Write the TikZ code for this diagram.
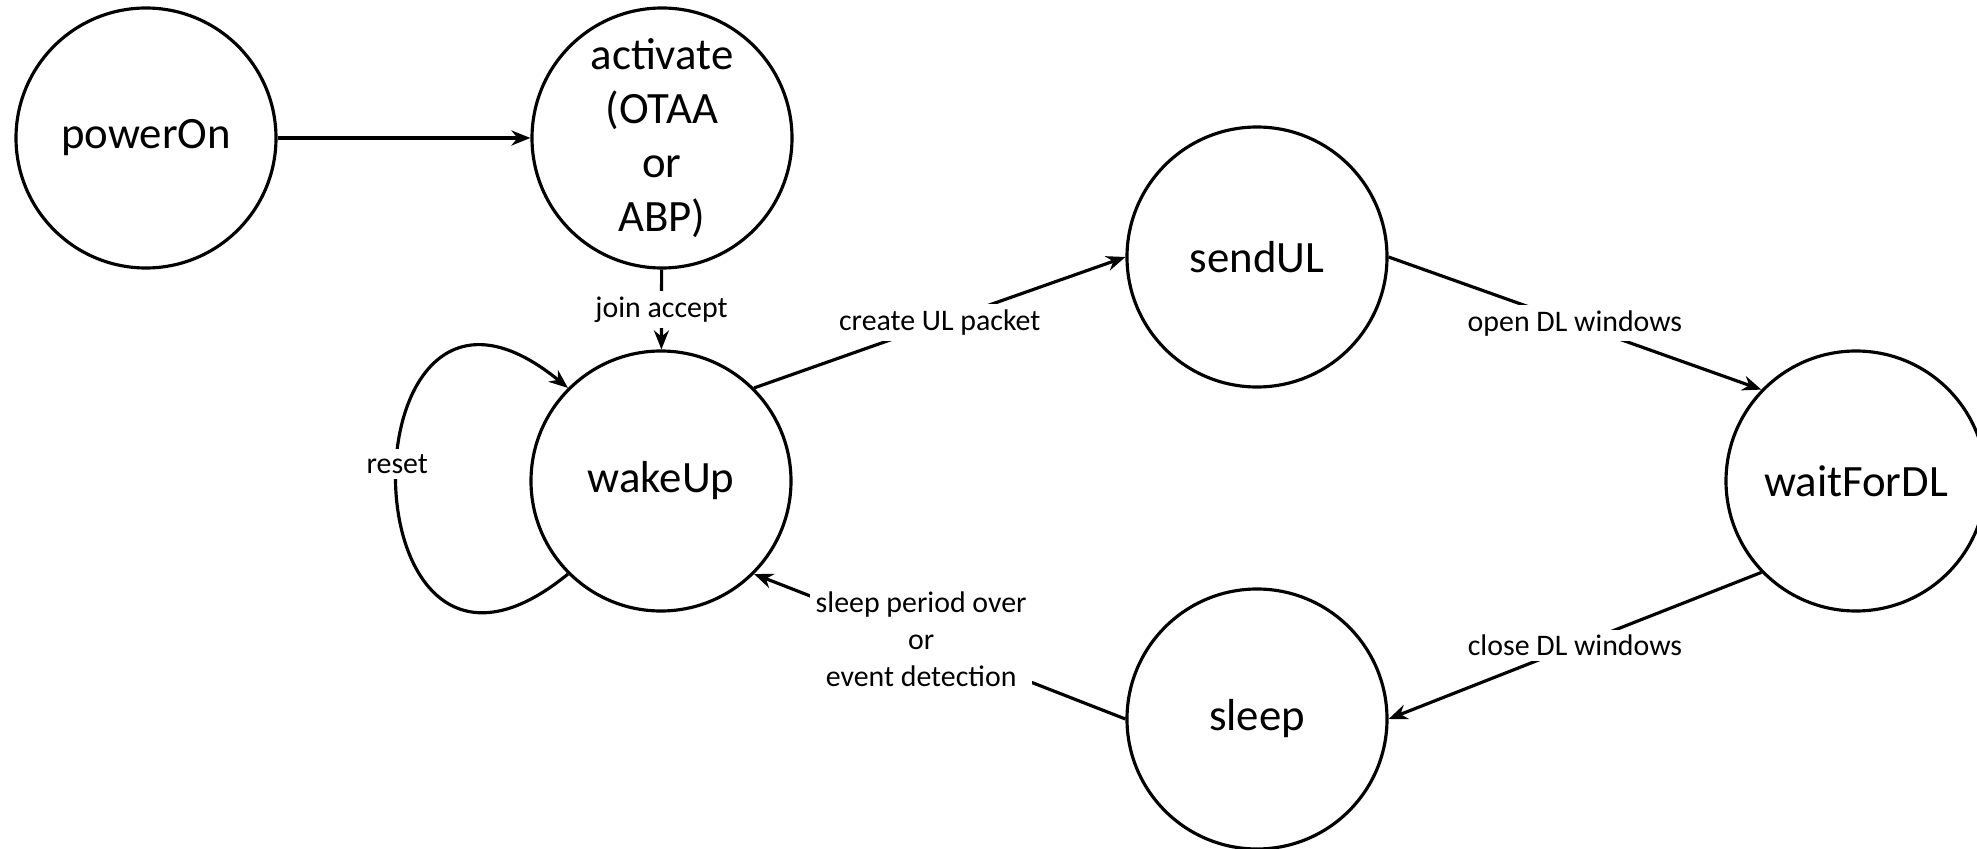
\documentclass[tikz,border=0pt]{standalone}
\usepackage{fontspec}
\setmainfont{Carlito}
\usetikzlibrary{arrows.meta,positioning}

\begin{document}
\begin{tikzpicture}[
    phase/.style={circle, draw, line width=1.8pt, minimum size=5.2cm, inner sep=0pt, align=center, font=\fontsize{25.5}{30.7}\selectfont},
    arrow/.style={-{Stealth[length=0.38cm, width=0.3cm]}, line width=1.8pt},
    trans/.style={fill=white, inner sep=3pt, align=center, font=\fontsize{17}{21}\selectfont}
]
    \useasboundingbox (0,0) rectangle (39.54,16.96);

    % States
    \node[phase] (powerOn) at (2.92, 14.2) {powerOn};
    \node[phase] (activate) at (13.24, 14.2) {activate\\(OTAA\\or\\ABP)};
    \node[phase] (wakeUp) at (13.22, 7.34) {wakeUp};
    \node[phase] (sendUL) at (25.14, 11.82) {sendUL};
    \node[phase] (waitForDL) at (37.12, 7.34) {waitForDL};
    \node[phase] (sleep) at (25.14, 2.58) {sleep};

    % Transitions
    \draw[arrow] (powerOn) -- (activate);
    \draw[arrow] (activate) -- (wakeUp) node[midway, trans] {join accept};
    \draw[arrow] (wakeUp.45) -- (sendUL.180) node[midway, trans] {create UL packet};
    \draw[arrow] (sendUL.0) -- (waitForDL.136) node[midway, trans] {open DL windows};
    \draw[arrow] (waitForDL.224) -- (sleep.0) node[midway, trans] {close DL windows};
    \draw[arrow] (sleep.180) -- (wakeUp.-45) node[pos=0.55, trans] {sleep period over\\or\\event detection};

    % Self loop
    \draw[arrow] (wakeUp.225) .. controls (6.79,1.74) and (6.79,12.94) .. node[pos=0.53, trans] {reset} (wakeUp.135);
\end{tikzpicture}
\end{document}
